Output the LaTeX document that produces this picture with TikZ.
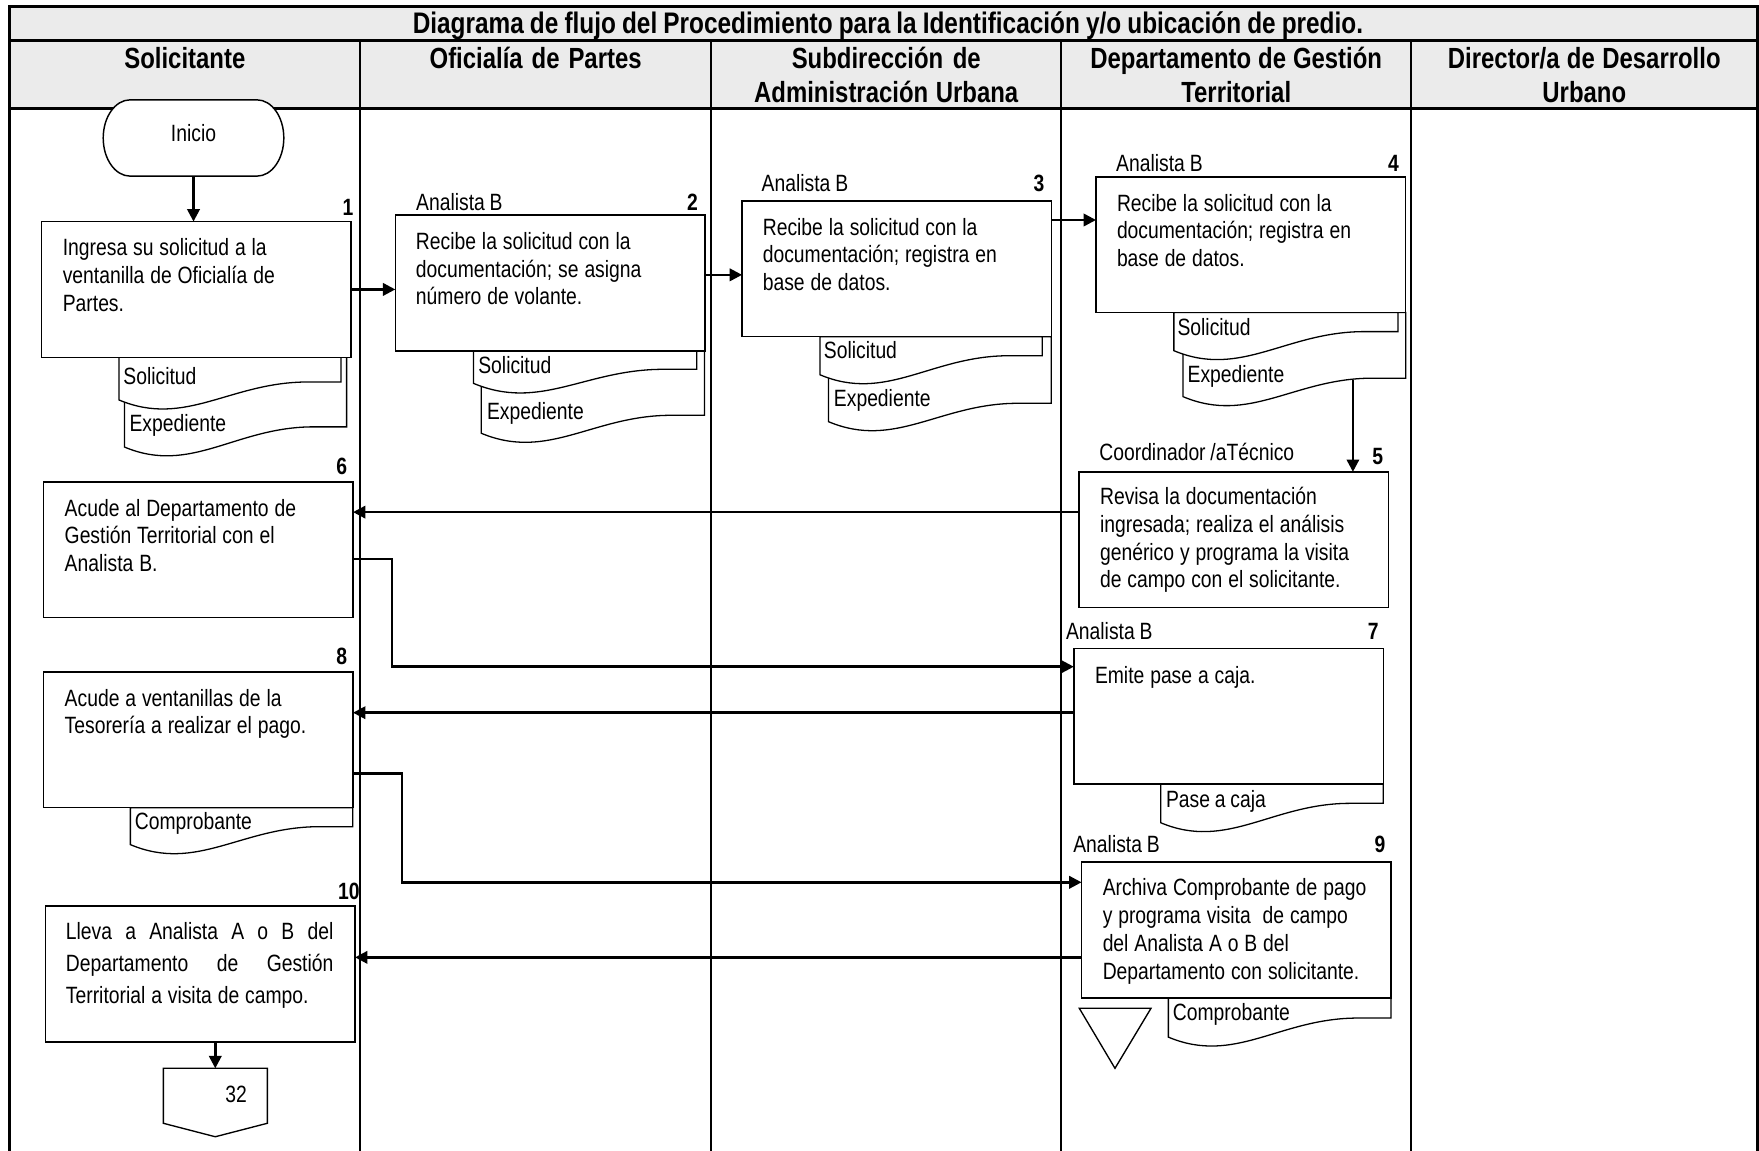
\documentclass[tikz,border=0pt]{standalone}
\usepackage{fontspec}
\setmainfont{Liberation Sans}[FakeStretch=0.82, WordSpace=0.9]
\usetikzlibrary{arrows.meta}

% document symbol: left x, top y, width, left height, right height
\newcommand{\docshape}[5]{%
  \pgfmathsetmacro\dxr{#1+#3}%
  \pgfmathsetmacro\dyl{#2+#4}%
  \pgfmathsetmacro\dyr{#2+#5}%
  \pgfmathsetmacro\dxm{#1+0.85*#3}%
  \pgfmathsetmacro\dxc{#1+0.5*#3}%
  \pgfmathsetmacro\dxb{#1+0.3*#3}%
  \pgfmathsetmacro\dyb{#2+#4+25}%
  \draw[docline] (#1,#2) -- (\dxr,#2) -- (\dxr,\dyr) -- (\dxm,\dyr)
    .. controls (\dxc,\dyr) and (\dxb,\dyb) .. (#1,\dyl) -- cycle;
}

\begin{document}
\begin{tikzpicture}[x=1pt,y=-1pt,
  every node/.style={inner sep=0pt, outer sep=0pt},
  frame/.style={line width=2.6pt},
  lane/.style={line width=1.8pt},
  proc/.style={draw, line width=1.4pt, fill=white, minimum width=276pt, minimum height=121pt},
  docline/.style={fill=white, line width=1.15pt},
  conn/.style={line width=2.2pt, -{Triangle[length=11pt,width=11pt]}},
  body/.style={font=\fontsize{21}{24.7}\selectfont, anchor=base west, align=left, text width=300pt,
    execute at begin node={\spaceskip=0.25em plus 0.1em minus 0.05em\relax}},
  lbl/.style={font=\fontsize{21}{24.7}\selectfont, anchor=base west},
  num/.style={font=\fontsize{21}{24.7}\selectfont\bfseries, anchor=base east},
  head/.style={font=\fontsize{26}{30}\selectfont\bfseries, anchor=base, align=center, text width=300pt,
    execute at begin node={\spaceskip=0.2em plus 0.1em minus 0.05em\relax}},
]
\useasboundingbox (0,0) rectangle (1568,1026);

% title and header band
\fill[gray!16] (8.5,5.5) rectangle (1566.5,96.6);
\draw[frame] (8.5,1026) -- (8.5,5.5) -- (1566.5,5.5) -- (1566.5,1026);
\draw[frame] (8.5,36.3) -- (1566.5,36.3);
\draw[frame] (8.5,96.6) -- (1566.5,96.6);
\foreach \x in {321,634,946,1258} \draw[lane] (\x,36.3) -- (\x,1026);

\node[font=\fontsize{26.5}{30}\selectfont\bfseries, anchor=base] (title) at (791.5,29.5)
  {Diagrama de flujo del Procedimiento para la Identificación y/o ubicación de predio.};
\node[head] (h1) at (164.75,61) {Solicitante};
\node[head] (h2) at (477.5,61) {Oficialía de Partes};
\node[head] (h3) at (790,61) {Subdirección de\\Administración Urbana};
\node[head] (h4) at (1102,61) {Departamento de Gestión\\Territorial};
\node[head] (h5) at (1412.25,61) {Director/a de Desarrollo\\Urbano};

% start terminal
\draw[line width=1.3pt, fill=white] (116,89) -- (229,89)
  arc[start angle=-90, end angle=90, x radius=24, y radius=34] -- (116,157)
  arc[start angle=90, end angle=270, x radius=24, y radius=34] -- cycle;
\node[minimum width=161pt, minimum height=68pt] (inicio) at (172.5,123) {};
\node[lbl, anchor=base] (tinicio) at (172.5,126.5) {Inicio};

% documents attached to the activities
\docshape{111}{318.5}{198}{80}{62}
\docshape{106}{318.5}{198}{38}{22}
\node[lbl] (d1a) at (110,343) {Solicitud};
\node[lbl] (d1b) at (115.5,385) {Expediente};

\docshape{429}{312.7}{199}{73.5}{57.5}
\docshape{422}{312.7}{199}{29}{16.5}
\node[lbl] (d2a) at (426.4,332.5) {Solicitud};
\node[lbl] (d2b) at (434.2,374) {Expediente};

\docshape{738.6}{300.1}{198.4}{75.8}{59.4}
\docshape{731}{300.1}{198}{34}{17}
\node[lbl] (d3a) at (734.5,319.6) {Solicitud};
\node[lbl] (d3b) at (743.4,362) {Expediente};

\docshape{1054.6}{278.6}{198.5}{75}{58.5}
\docshape{1046.4}{278.6}{199.7}{34}{17}
\node[lbl] (d4a) at (1049.7,299) {Solicitud};
\node[lbl] (d4b) at (1058.7,341) {Expediente};

\docshape{1034.7}{698.9}{198.4}{34.5}{17.2}
\node[lbl] (d7) at (1039.4,720) {Pase a caja};

\docshape{116.2}{719.9}{198.2}{33}{17}
\node[lbl] (d8) at (120.2,739) {Comprobante};

\docshape{1041.5}{889.5}{198.5}{35}{18}
\node[lbl] (d9) at (1045.5,910) {Comprobante};

% activities
\node[proc] (b1) at (175,258) {};
\node[proc] (b2) at (490.4,252.2) {};
\node[proc] (b3) at (799.5,239.6) {};
\node[proc] (b4) at (1115,218.1) {};
\node[proc] (b5) at (1099.7,481.1) {};
\node[proc] (b6) at (176.7,490) {};
\node[proc] (b7) at (1095.2,638.4) {};
\node[proc] (b8) at (176.7,659.4) {};
\node[proc] (b9) at (1102.1,829) {};
\node[proc] (b10) at (178.5,868.3) {};

\node[body] (t1) at (56,228) {Ingresa su solicitud a la\\ventanilla de Oficialía de\\Partes.};
\node[body] (t2) at (370.8,222.4) {Recibe la solicitud con la\\documentación; se asigna\\número de volante.};
\node[body] (t3) at (680,209.6) {Recibe la solicitud con la\\documentación; registra en\\base de datos.};
\node[body] (t4) at (995.7,188.3) {Recibe la solicitud con la\\documentación; registra en\\base de datos.};
\node[body] (t5) at (980.6,449.8) {Revisa la documentación\\ingresada; realiza el análisis\\genérico y programa la visita\\de campo con el solicitante.};
\node[body] (t6) at (57.7,460.1) {Acude al Departamento de\\Gestión Territorial con el\\Analista B.};
\node[body] (t7) at (976.1,609.6) {Emite pase a caja.};
\node[body] (t8) at (57.7,629.5) {Acude a ventanillas de la\\Tesorería a realizar el pago.};
\node[body, font=\fontsize{21}{25.1}\selectfont] (t9) at (983,798.2) {Archiva Comprobante de pago\\y programa visita \ de campo\\del Analista A o B del\\Departamento con solicitante.};
\node[body, font=\fontsize{21}{28.3}\selectfont] (t10) at (58.8,837.5)
  {\makebox[238.4pt][l]{Lleva\hfill a\hfill Analista\hfill A\hfill o\hfill B\hfill del}\\
   \makebox[238.4pt][l]{Departamento\hfill de\hfill Gestión}\\
   Territorial a visita de campo.};

% roles and step numbers
\node[num] (n1) at (315,192) {1};
\node[lbl] (r2) at (371,188) {Analista B};
\node[num] (n2) at (622,188) {2};
\node[lbl] (r3) at (679,170.4) {Analista B};
\node[num] (n3) at (931,170.4) {3};
\node[lbl] (r4) at (995,152.6) {Analista B};
\node[num] (n4) at (1247,152.6) {4};
\node[lbl] (r5) at (980,410.5) {Coordinador /aTécnico};
\node[num] (n5) at (1233,414) {5};
\node[num] (n6) at (309.5,423) {6};
\node[lbl] (r7) at (950.3,570) {Analista B};
\node[num] (n7) at (1229,570) {7};
\node[num] (n8) at (309.5,592.4) {8};
\node[lbl] (r9) at (956.8,760.3) {Analista B};
\node[num] (n9) at (1235,760) {9};
\node[num] (n10) at (320.5,802) {10};

% archive symbol
\draw[line width=1.2pt] (962.1,898.8) -- (1026,898.8) -- (993.9,952.3) -- cycle;

% off-page connector
\draw[line width=1.2pt, fill=white] (145.6,952.3) -- (238.3,952.3) -- (238.3,1001.3)
  -- (191.9,1013.3) -- (145.6,1001.3) -- cycle;
\node[minimum width=92.7pt, minimum height=61pt] (c32) at (191.9,982.8) {};
\node[lbl, anchor=base] (t32) at (210.4,982.5) {32};

% flow
\coordinate (d4out) at (1206,339);
\draw[conn] (inicio.south) -- (inicio.south |- b1.north);
\draw[conn] (b1.east) -- (b1.east -| b2.west);
\draw[conn] ([yshift=7.2pt]b2.east) -- ([yshift=7.2pt]b2.east -| b3.west);
\draw[conn] ([yshift=43.5pt]b3.east) -- ([yshift=43.5pt]b3.east -| b4.west);
\draw[conn] (d4out) -- (d4out |- b5.north);
\draw[conn] ([yshift=24.6pt]b5.west) -- ([yshift=24.6pt]b5.west -| b6.east);
\draw[conn] ([yshift=-8.3pt]b6.east) -- ++(34.7,0) |- ([yshift=44.1pt]b7.west);
\draw[conn] ([yshift=3.1pt]b7.west) -- ([yshift=3.1pt]b7.west -| b8.east);
\draw[conn] ([yshift=-30pt]b8.east) -- ++(43.5,0) |- ([yshift=42.5pt]b9.west);
\draw[conn] ([yshift=-24.4pt]b9.west) -- ([yshift=-24.4pt]b9.west -| b10.east);
\draw[conn] (b10.south -| c32.north) -- (c32.north);
\end{tikzpicture}
\end{document}
